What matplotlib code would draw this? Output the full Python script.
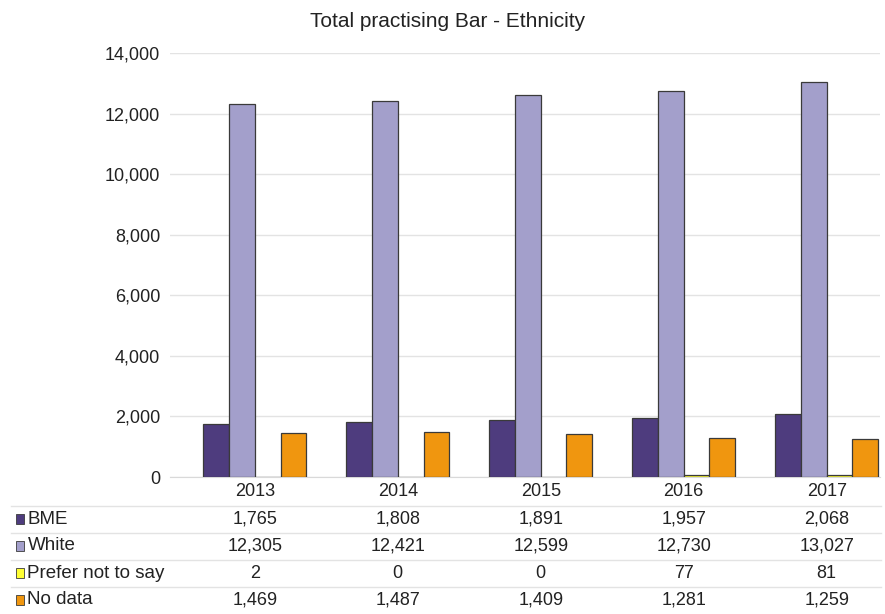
import matplotlib
matplotlib.use("Agg")
import matplotlib.pyplot as plt
import matplotlib.transforms as mtransforms
import numpy as np

# ── Data ───────────────────────────────────────────────────────────────────────
years = ["2013", "2014", "2015", "2016", "2017"]
series_names = ["BME", "White", "Prefer not to say", "No data"]
bme = [1765, 1808, 1891, 1957, 2068]
white = [12305, 12421, 12599, 12730, 13027]
prefer_not = [2, 0, 0, 77, 81]
no_data = [1469, 1487, 1409, 1281, 1259]
y_ticks = [0, 2000, 4000, 6000, 8000, 10000, 12000, 14000]

COLORS = ["#4E3C7E", "#A39FCB", "#FFFF33", "#F0960F"]
EDGE = "#3A3A3A"
TEXT = "#222222"

plt.rcParams["font.family"] = ["Liberation Sans", "DejaVu Sans"]

fig = plt.figure(figsize=(8.85, 6.14), dpi=100)
ax = fig.add_axes([0.192, 0.2231, 0.802, 0.6906])

values = [bme, white, prefer_not, no_data]
x = np.arange(len(years))
width = 0.18
offsets = (np.arange(len(series_names)) - 1.5) * width

for vals, off, col, name in zip(values, offsets, COLORS, series_names):
    ax.bar(x + off, vals, width, color=col, edgecolor=EDGE, linewidth=0.9,
           label=name, zorder=3)

ax.set_xlim(-0.594, 4.371)
ax.set_ylim(0, 14000)
ax.set_yticks(y_ticks)
ax.set_yticklabels([f"{v:,}" for v in y_ticks], fontsize=13, color=TEXT)
ax.tick_params(axis="y", length=0, pad=7)
ax.set_xticks([])
ax.grid(axis="y", color="#E3E3E3", linewidth=1, zorder=0)
for s in ("top", "right", "left"):
    ax.spines[s].set_visible(False)
ax.spines["bottom"].set_color("#D9D9D9")

fig.text(0.506, 0.965, "Total practising Bar - Ethnicity", ha="center", va="center",
         fontsize=15, color=TEXT)

# ── Data table below the axis ────────────────────────────────────────────────
trans = mtransforms.blended_transform_factory(ax.transData, fig.transFigure)
row_h = 27 / 614
year_y = 1 - 492 / 614
for i, yr in enumerate(years):
    ax.text(x[i], year_y, yr, transform=trans, ha="center", va="center",
            fontsize=13, color=TEXT, clip_on=False)

for r, (name, vals, col) in enumerate(zip(series_names, values, COLORS)):
    yy = year_y - (r + 1) * row_h
    # separator line above row
    fig.add_artist(plt.Line2D([0.012, 0.995], [yy + row_h / 2] * 2,
                              color="#E3E3E3", linewidth=1))
    fig.patches.append(plt.Rectangle((0.018, yy - 0.0075), 0.0095, 0.015,
                                     transform=fig.transFigure, facecolor=col,
                                     edgecolor=EDGE, linewidth=0.6))
    fig.text(0.031, yy, name, ha="left", va="center", fontsize=13.5, color=TEXT)
    for i, v in enumerate(vals):
        ax.text(x[i], yy, f"{v:,}", transform=trans, ha="center", va="center",
                fontsize=13, color=TEXT, clip_on=False)

fig.savefig("out.png", dpi=100, facecolor="white")
